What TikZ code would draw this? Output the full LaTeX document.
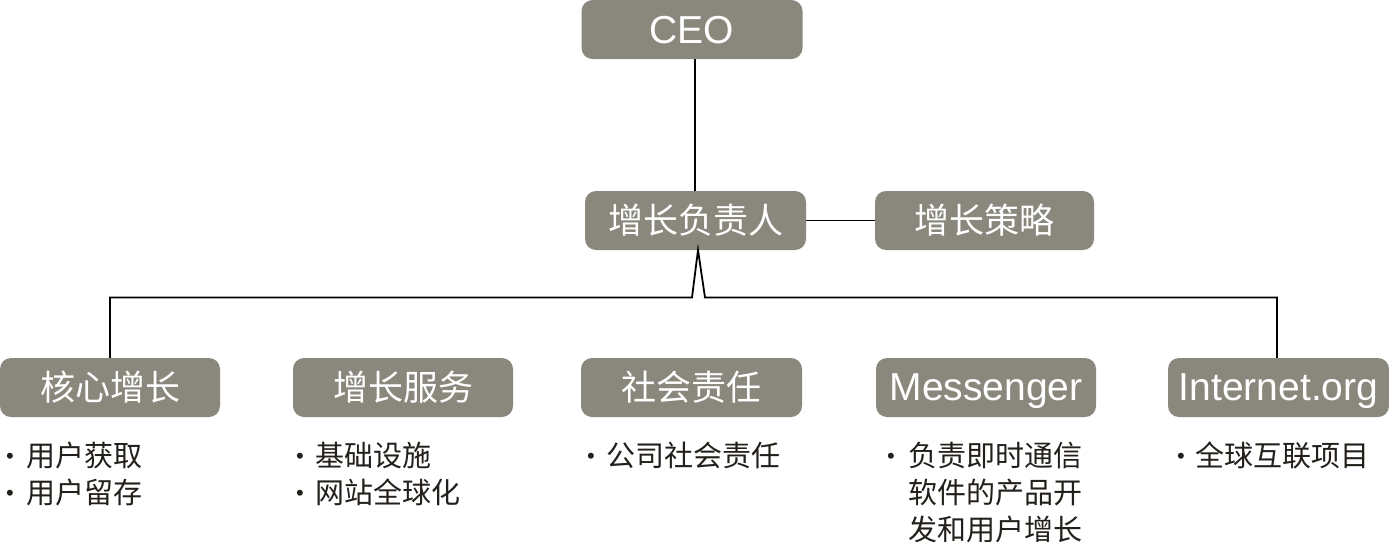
\documentclass[tikz,border=0pt]{standalone}
\usepackage{fontspec}
\setmainfont{Liberation Sans}
\newfontfamily\cjk{Noto Sans CJK SC}
\definecolor{boxgray}{HTML}{8A887D}
\definecolor{txtdark}{HTML}{231F1A}
\newcommand\bul{\raisebox{2.5pt}{\normalfont\fontsize{22}{22}\selectfont •}}
\begin{document}
\begin{tikzpicture}[x=1pt,y=-1pt,
  box/.style={rounded corners=11pt, fill=boxgray, text=white, inner sep=0pt,
    minimum width=221pt, minimum height=59pt},
  cjkbox/.style={box, font=\cjk\fontsize{35}{40}\selectfont},
  latbox/.style={box, font=\fontsize{39}{42}\selectfont, text depth=0pt},
  conn/.style={draw=black, line width=1.8pt},
  list/.style={anchor=base west, inner sep=0pt, text=txtdark,
    font=\cjk\fontsize{29}{37}\selectfont}]
\useasboundingbox (0,0) rectangle (1389,541);
% top
\node[latbox] (ceo) at (692,29.5) {CEO};
\node[cjkbox] (head) at (695.5,220.5) {增长负责人};
\node[cjkbox, minimum width=219pt] (strat) at (984.5,220.5) {增长策略};
% bottom
\node[cjkbox, minimum width=220pt] (core) at (110,387.5) {核心增长};
\node[cjkbox, minimum width=220pt] (serv) at (403,387.5) {增长服务};
\node[cjkbox] (soc) at (691.5,387.5) {社会责任};
\node[latbox, minimum width=220pt] (msg) at (986,387.5) {Messenger};
\node[latbox] (inet) at (1278.5,387.5) {Internet.org};
% connectors
\coordinate (jl) at (692,297.5);
\coordinate (jr) at (705,297.5);
\coordinate (apex) at (698,250);
\draw[conn] (head.north -| 695,0) -- (ceo.south -| 695,0);
\draw[conn] (head.east) -- (strat.west);
\draw[conn] (core.north -| 110,0) |- (jl) -- (apex) -- (jr) -| (inet.north -| 1277,0);
% lists
\node[list] (l1) at (6,466) {\begin{tabular}[t]{@{}l@{}l@{}}\makebox[20pt][l]{\bul} & 用户获取\\ \makebox[20pt][l]{\bul} & 用户留存\end{tabular}};
\node[list] (l2) at (296,466) {\begin{tabular}[t]{@{}l@{}l@{}}\makebox[19pt][l]{\bul} & 基础设施\\ \makebox[19pt][l]{\bul} & 网站全球化\end{tabular}};
\node[list] (l3) at (587,466) {\begin{tabular}[t]{@{}l@{}l@{}}\makebox[19pt][l]{\bul} & 公司社会责任\end{tabular}};
\node[list] (l4) at (887,466) {\begin{tabular}[t]{@{}l@{}l@{}}\makebox[21pt][l]{\bul} & 负责即时通信\\ & 软件的产品开\\ & 发和用户增长\end{tabular}};
\node[list] (l5) at (1177,466) {\begin{tabular}[t]{@{}l@{}l@{}}\makebox[18pt][l]{\bul} & 全球互联项目\end{tabular}};
\end{tikzpicture}
\end{document}
